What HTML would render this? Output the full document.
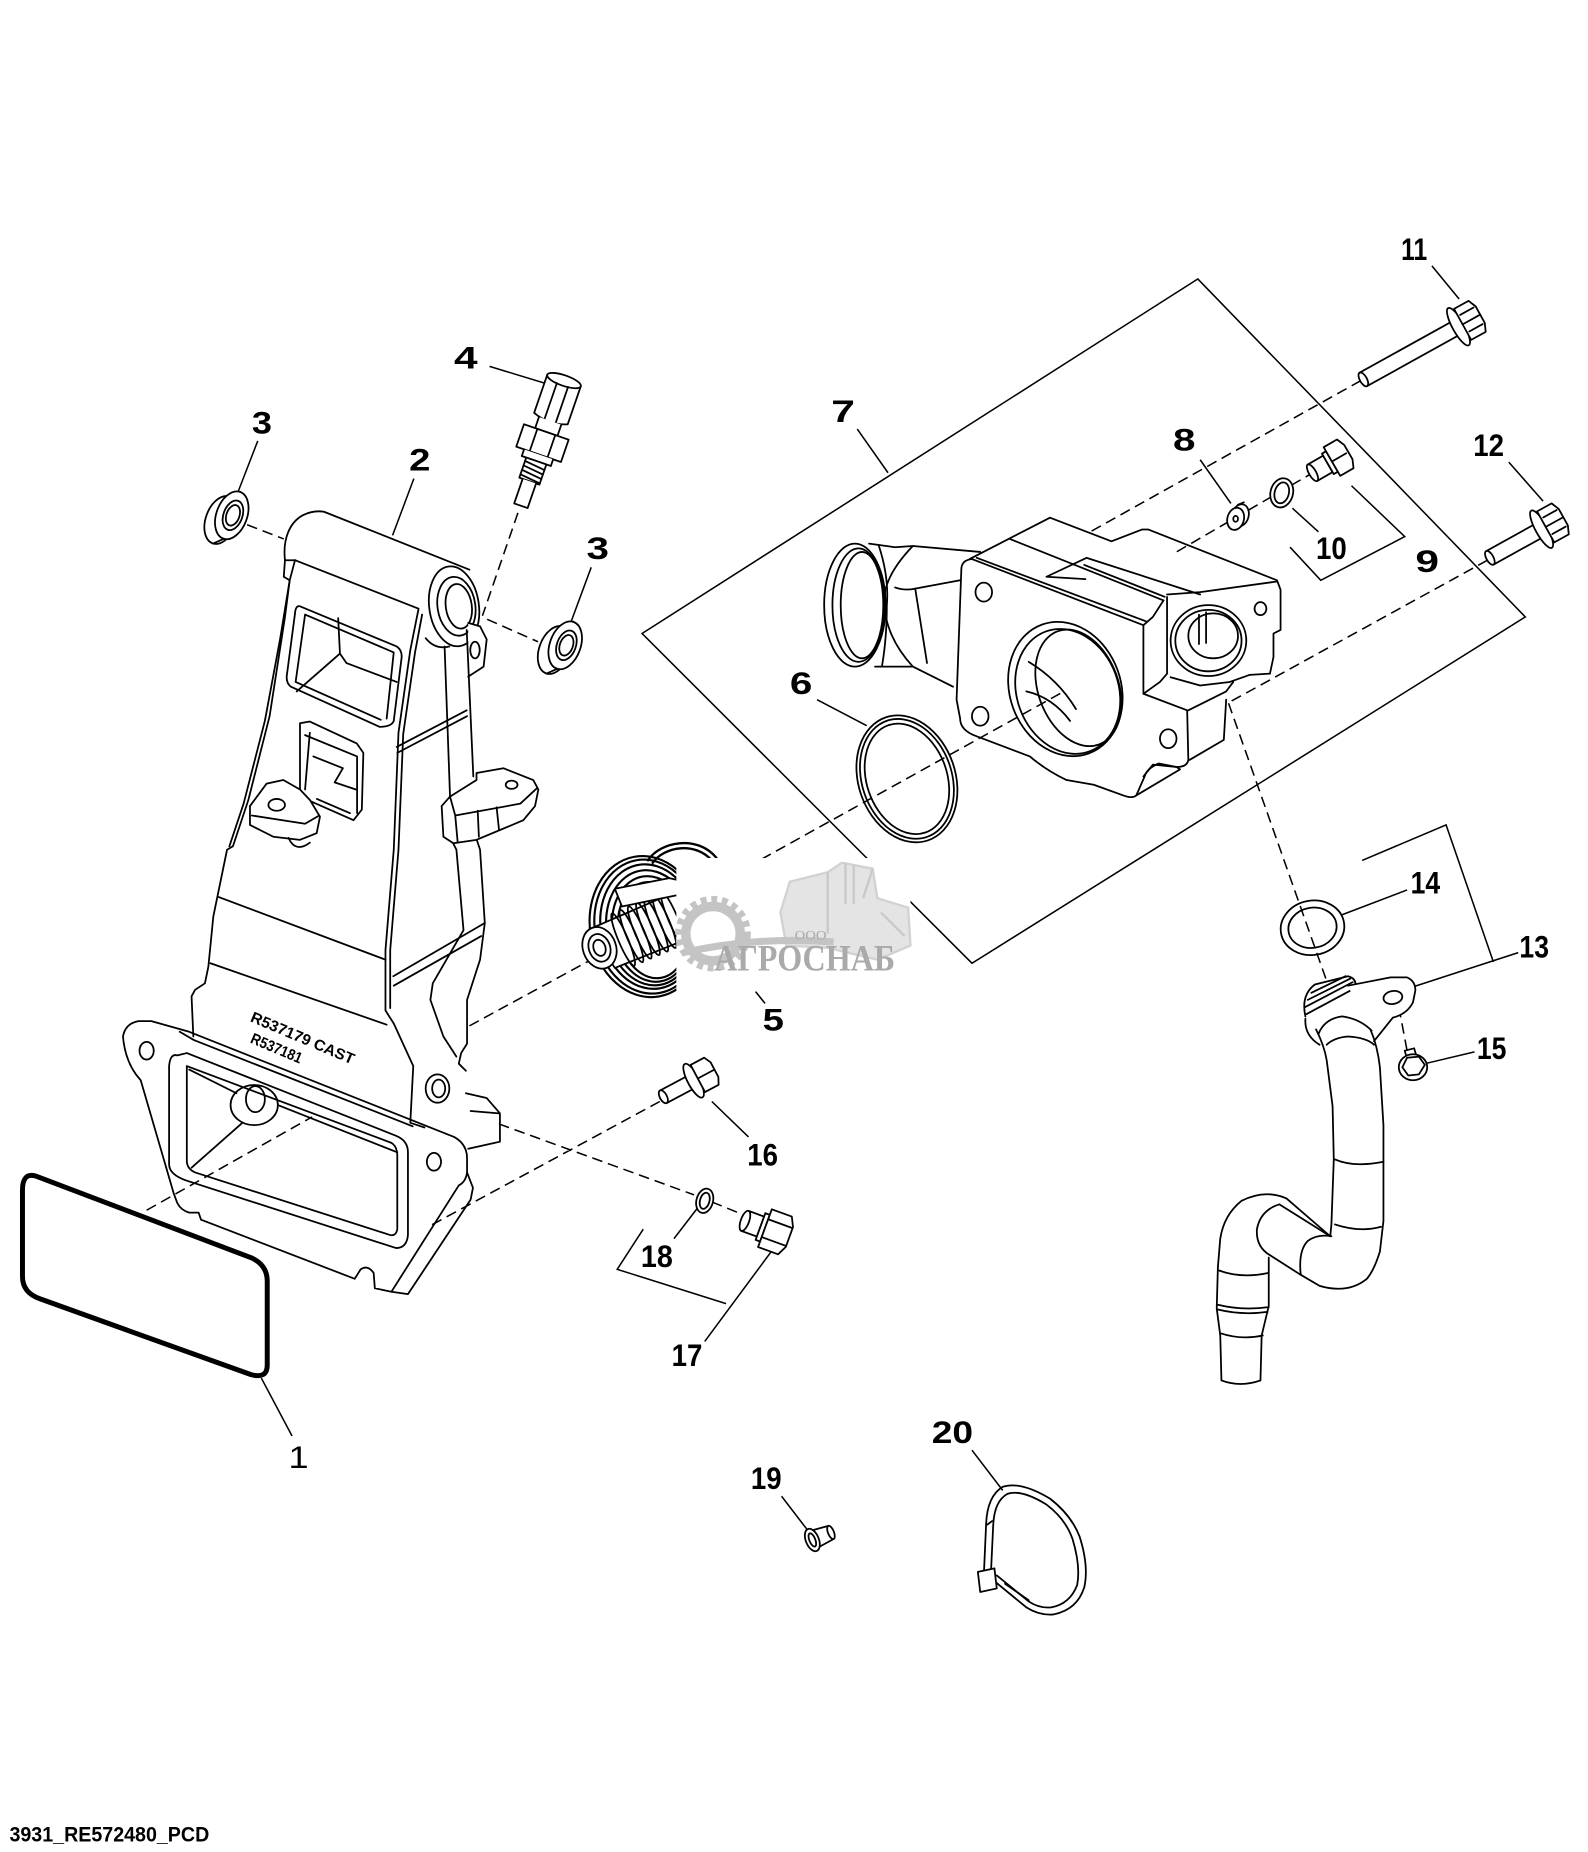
<!DOCTYPE html>
<html><head><meta charset="utf-8">
<style>
html,body{margin:0;padding:0;background:#fff;}
svg{display:block;}
text{font-family:"Liberation Sans",Arial,sans-serif;font-weight:bold;fill:#000;}
</style></head><body>
<svg width="1588" height="1852" viewBox="0 0 1343 1567" preserveAspectRatio="none" xmlns="http://www.w3.org/2000/svg">
<rect width="1343" height="1567" fill="#fff"/>

<!-- Box 7 -->
<g fill="none" stroke="#000" stroke-width="1.3">
<polygon points="1013,236 1290,522 822,815 543,536"/>
</g>

<!-- dashed axes -->
<g fill="none" stroke="#000" stroke-width="1.3" stroke-dasharray="9 5">
<path d="M1151,322 L922,450 M1112,399 L995,467 M1258,474 L1040,594 M1039,595 L1122,830 M397,868 L500,812 M644,727 L898,586 M209,444 L240,456 M438,434 L408,521 M412,524 L455,543 M558,932 L364,1037 M422,951 L587,1011 M602,1017 L634,1030 M124,1024 L264,945 M1183,852 L1190,889"/>
</g>

<!-- leaders -->
<g fill="none" stroke="#000" stroke-width="1.3">
<path d="M414,310 L460,324 M218,373 L201,417 M350,405 L332,453 M500,480 L483,526 M639,839 L647,849 M725,363 L751,400 M1015,389 L1041,426 M1115,450 L1093,430 M1143,411 L1188,454 L1117,491 L1091,463 M1211,225 L1234,253 M1276,391 L1305,424 M691,592 L733,614 M1190,753 L1135,774 M1152,728 L1223,698 L1263,814 M1284,806 L1195,835 M1247,890 L1205,900 M633,962 L602,932 M570,1048 L590,1022 M544,1040 L522,1074 L614,1103 M596,1135 L653,1058 M247,1215 L221,1166 M661,1266 L684,1296 M822,1227 L848,1261"/>
</g>

<g fill="none" stroke="#000" stroke-width="1.5" stroke-linejoin="round" stroke-linecap="round">

<!-- Part 2 housing -->
<path d="M241,474 C239,456 245,442 256,436 C262,433 268,432 274,433 L397,482"/>
<path d="M241,474 L240,488 L245,491 M241,474 L250,474"/>
<path d="M249.5,474 L245,491 L241,522 L228,606 L210,677 L197,716 L192,719 L180.4,775.5 L176.2,818 L173.3,832 L165,837.5 L162,843 L163.5,877"/>
<path d="M245,491 L237,540 L224,610 L206,680 L194,716"/>
<path d="M249.5,474 L354,515 L347,550 L337,620 L333,719 L326,804 L326,855 L333,866 L349.5,902 L347,950 L359,954"/>
<path d="M357,520 L351,552 L341,621 L337,719 L330,804 L330,853"/>
<ellipse cx="384" cy="513" rx="21" ry="34" transform="rotate(-8 384 513)" fill="#fff"/>
<ellipse cx="386" cy="513" rx="16" ry="25" transform="rotate(-8 386 513)"/>
<ellipse cx="388" cy="513" rx="11" ry="19" transform="rotate(-8 388 513)"/>
<path d="M360,540 Q368,550 380,547"/>
<path d="M396,527 L406,530 L411.6,541 L409,564 L396,572.5" fill="#fff"/>
<ellipse cx="401.7" cy="550" rx="4" ry="7"/>
<path d="M376,547 L380.6,674 M394.7,533 L400.3,657"/>
<path d="M335.5,632 L394.7,601 M336,637 L395,606"/>
<path d="M383,713 L386,719 L392,787 L366,832 L364,846 L375,877 L386,894"/>
<path d="M403,710 L406,719 L410,781 L406,812 L395,846 L395,883 L390,891 L388,900 L394,906"/>
<path d="M332.6,826 L410,781 M333,834 L407,792"/>
<path d="M403,654 L425.7,650 L451,660 L455.3,668 L452.5,682 L442.6,694 L403,710.6 L383.4,713.5 L375,708 L373.5,682 L380.6,674 L403,660 Z" fill="#fff"/>
<path d="M380.6,674 L385,690 L440,680 L454,667 M385,690 L387,712 M404,686 L405,708 M420,683 L422,702"/>
<ellipse cx="432.7" cy="664" rx="5" ry="3.5"/>
<path d="M253.7,513 L335.5,547 Q340,550 339.7,556 L333,610 Q331,615 321,615 L246,581 Q242,578 242.5,572 L249.5,519 Q250,512 253.7,513 Z"/>
<path d="M258,520 L333,552 L327,608 M258,520 L250,577 L322,609"/>
<path d="M286,523 L287.5,553 L250.9,585 M287.5,553 L293,561 L335.5,577"/>
<path d="M253.7,612 L262,610.5 L301.7,629 L307.3,637 L306,685 L299,694 L253.7,674 Z"/>
<path d="M258,622 L302,640 L302,688 M262,620 L258,668 M265,640 L290,650 L283,662 L301,668 M268,676 L296,688"/>
<path d="M211.4,682 L225.5,663 L239.6,660 L253.7,668 L262.2,677 L270.6,691 L267.8,705 L253.7,710.6 L231.2,708 L211.4,698 Z" fill="#fff"/>
<ellipse cx="234" cy="681" rx="7" ry="5"/>
<path d="M213,690 L258,697 L270,690 M244,709 Q250,722 262,713"/>
<path d="M185,759 L326,812 M178,815 L327,867"/>
<ellipse cx="370" cy="921" rx="10" ry="12"/>
<ellipse cx="371" cy="921" rx="5.5" ry="7.5"/>
<!-- flange -->
<path d="M104,877 Q106,866 117,864 L128,864 L160,873 L384,962 Q395,968 395,980 L395,992 Q394,1000 388,1003 L331,1093 L317,1090 L316,1077 Q311,1070 305,1074 L300,1082 L170,1032 L168,1026 L160,1026 Q153,1024 150,1018 L147,1010 L119,914 Q106,900 104,877 Z"/>
<path d="M152,873 L164,880 L349,953"/>
<path d="M395,992 L400,1005 L398,1015 L345,1095 L331,1093"/>
<path d="M394,925 L411.5,929 L422.8,942 L422.8,966 L396,972 M398,940 L422,942"/>
<ellipse cx="124" cy="889" rx="6" ry="7.5"/>
<ellipse cx="367" cy="983" rx="6" ry="7.5"/>
<path d="M150,893 L158,891 L335,961 Q345,965 345,975 L345,1045 Q344,1056 335,1056 L158,999 Q143,994 143,985 L143,902 Q144,891 150,893 Z"/>
<path d="M158,902 L331,967 Q336,970 336,978 L336,1040 Q335,1046 330,1045 L165,992 Q158,989 158,982 Z"/>
<ellipse cx="215" cy="935" rx="20" ry="17"/>
<ellipse cx="216" cy="930" rx="8" ry="11"/>
<path d="M162,988 L205,950 M160,905 L200,925 M235,935 L336,975"/>

<!-- Part 1 gasket -->
<path d="M30,995 L212,1064 Q226,1070 226,1084 L226,1155 Q226,1167 212,1163 L34,1099 Q19,1094 19,1080 L19,1007 Q19,992 30,995 Z" stroke-width="4.2"/>

<!-- Part 3 bushings -->
<ellipse cx="187" cy="440" rx="13" ry="21" transform="rotate(20 187 440)"/>
<path d="M194,420 L203,416 M180,460 L189,456"/>
<ellipse cx="196" cy="436" rx="13" ry="21" transform="rotate(20 196 436)" fill="#fff"/>
<ellipse cx="197" cy="436" rx="8" ry="13" transform="rotate(20 197 436)"/>
<ellipse cx="197" cy="436" rx="5.5" ry="9" transform="rotate(20 197 436)"/>
<ellipse cx="469" cy="550" rx="13" ry="21" transform="rotate(20 469 550)"/>
<path d="M476,530 L485,526 M462,570 L471,566"/>
<ellipse cx="478" cy="546" rx="13" ry="21" transform="rotate(20 478 546)" fill="#fff"/>
<ellipse cx="479" cy="546" rx="8" ry="13" transform="rotate(20 479 546)"/>
<ellipse cx="479" cy="546" rx="5.5" ry="9" transform="rotate(20 479 546)"/>

<!-- Part 4 sensor -->
<g transform="translate(477,322) rotate(19)" fill="#fff">
<path d="M-15,0 L-15,34 Q0,40 15,34 L15,0 Z"/>
<ellipse cx="0" cy="0" rx="15" ry="4.5"/>
<path d="M-5,4 L-5,36 M5,4 L5,36" fill="none"/>
<path d="M-10,36 L-10,46 L10,46 L10,36"/>
<path d="M-20,46 L20,46 L20,66 L-20,66 Z"/>
<path d="M-8,46 L-8,66 M8,46 L8,66" fill="none"/>
<path d="M-13,66 L-13,72 L13,72 L13,66"/>
<path d="M-9,72 L-9,90 L9,90 L9,72 Z"/>
<path d="M-9,75 L9,77 M-9,79 L9,81 M-9,83 L9,85 M-9,87 L9,89" fill="none"/>
<path d="M-6,90 L-6,112 L6,112 L6,90"/>
</g>

<!-- Part 7 thermostat housing -->
<ellipse cx="723" cy="512" rx="26" ry="52"/>
<ellipse cx="726" cy="512" rx="22" ry="48"/>
<ellipse cx="729" cy="512" rx="18" ry="45"/>
<path d="M743,461 Q752,488 750,512 Q750,540 746,563"/>
<path d="M735,460 L757,463 L772,462 L829,467 M740,564 L772,564 L806,581"/>
<path d="M772,462 Q745,490 748,513 Q750,540 772,564"/>
<path d="M774,498 L812,491 M774,498 L784,561 M757,497 Q765,500 774,498"/>
<path d="M813,482 Q813,474 822,473 L967,529 L967,587 L1004,601 L1005,643 Q1004,649 995,649 L980,646 Q970,650 968,657 L961,673 Q958,676 950,673 L925,664 L902,660 Q885,652 871,640 L826,623 Q812,618 812,608 L809,592 Z"/>
<path d="M820,473 L888,438 L940,458 L966,448 L971,448 L1080,491 L1083,499 L1083,533 L1077,536 L1077,556 L1074,570"/>
<path d="M826,472 L970,526 M854,456 L984,508"/>
<path d="M885,488 L919,472 L1015,503 M885,488 L918,490 M917,478 L985,505"/>
<path d="M984,508 L975,522 L967,529 M987,505 L987,570 L981,577 L967,587"/>
<path d="M987,503 L1015,501 L1080,492 M1074,570 L1057,571 L1040,577 L1015,580 L990,573"/>
<path d="M1005,601 L1037,585 L1043,577 M1037,592 L1035,626 L1006,643"/>
<path d="M967,657 L975,647 L995,649 L998,651 L961,673"/>
<ellipse cx="832" cy="501" rx="7" ry="8"/>
<ellipse cx="829" cy="606" rx="7" ry="8"/>
<ellipse cx="988" cy="625" rx="7" ry="8"/>
<ellipse cx="1066" cy="515" rx="5" ry="5.5"/>
<ellipse cx="901" cy="583" rx="47" ry="58" transform="rotate(-20 901 583)"/>
<ellipse cx="903" cy="585" rx="43" ry="54" transform="rotate(-20 903 585)"/>
<ellipse cx="912" cy="582" rx="34" ry="51" transform="rotate(-20 912 582)"/>
<path d="M870,560 Q895,575 910,600 M868,585 Q890,590 905,610"/>
<ellipse cx="1022" cy="542" rx="32" ry="30"/>
<ellipse cx="1022" cy="542" rx="28" ry="26"/>
<ellipse cx="1026" cy="538" rx="21" ry="19"/>
<path d="M1014,520 L1014,545 M1020,518 L1020,544"/>

<!-- Part 6 ring -->
<ellipse cx="767" cy="659" rx="41" ry="55" transform="rotate(-19 767 659)"/>
<ellipse cx="767" cy="659" rx="38" ry="52" transform="rotate(-19 767 659)"/>
<ellipse cx="767" cy="659" rx="34" ry="48" transform="rotate(-19 767 659)"/>

<!-- Parts 8,9,10 -->
<ellipse cx="1049" cy="436" rx="7" ry="9.5" transform="rotate(15 1049 436)"/>
<path d="M1047,427 L1052,425 M1043,448 L1048,446"/>
<ellipse cx="1045" cy="439" rx="7" ry="9.5" transform="rotate(15 1045 439)" fill="#fff"/>
<ellipse cx="1045" cy="439" rx="2" ry="2.5"/>
<ellipse cx="1084" cy="417" rx="9.5" ry="12.5" transform="rotate(15 1084 417)" fill="#fff"/>
<ellipse cx="1084" cy="417" rx="6" ry="9" transform="rotate(15 1084 417)"/>
<g transform="translate(1110,400) rotate(-30)" fill="#fff">
<path d="M0,-8 L15,-8 L15,8 L0,8 Z"/>
<ellipse cx="0" cy="0" rx="3" ry="8"/>
<path d="M15,-10 L19,-10 L19,10 L15,10 Z"/>
<path d="M19,-14 L32,-14 L35,-7 L35,7 L32,14 L19,14 Z"/>
<path d="M19,0 L33,0" fill="none"/>
</g>

<!-- Bolts 11, 12 -->
<g transform="translate(1153,321) rotate(-29)" fill="#fff">
<path d="M0,-6.5 L92,-6.5 L92,6.5 L0,6.5 Z"/>
<ellipse cx="0" cy="0" rx="3" ry="6.5"/>
<ellipse cx="92" cy="0" rx="5" ry="18"/>
<path d="M96,-15 L110,-15 L113,-8 L113,8 L110,15 L96,15 Z"/>
<path d="M96,0 L112,0 M98,-8 L111,-8 M98,8 L111,8" fill="none"/>
</g>
<g transform="translate(1260,472) rotate(-29)" fill="#fff">
<path d="M0,-6.5 L50,-6.5 L50,6.5 L0,6.5 Z"/>
<ellipse cx="0" cy="0" rx="3" ry="6.5"/>
<ellipse cx="50" cy="0" rx="5" ry="18"/>
<path d="M54,-15 L68,-15 L71,-8 L71,8 L68,15 L54,15 Z"/>
<path d="M54,0 L70,0 M56,-8 L69,-8 M56,8 L69,8" fill="none"/>
</g>

<!-- Bolt 16 -->
<g transform="translate(561,928) rotate(-28)" fill="#fff">
<path d="M0,-6 L29,-6 L29,6 L0,6 Z"/>
<ellipse cx="0" cy="0" rx="3" ry="6"/>
<ellipse cx="29" cy="0" rx="5" ry="16"/>
<path d="M33,-13 L46,-13 L49,-7 L49,7 L46,13 L33,13 Z"/>
<path d="M33,0 L48,0" fill="none"/>
</g>

<!-- Washer 18, plug 17 -->
<ellipse cx="596" cy="1016" rx="7" ry="10.5" transform="rotate(15 596 1016)" fill="#fff"/>
<ellipse cx="596" cy="1016" rx="4" ry="7" transform="rotate(15 596 1016)"/>
<g transform="translate(630,1033) rotate(20)" fill="#fff">
<path d="M0,-9 L14,-9 L14,9 L0,9 Z"/>
<ellipse cx="0" cy="0" rx="3.5" ry="9"/>
<path d="M14,-12 L18,-12 L18,12 L14,12 Z"/>
<path d="M18,-17 L36,-17 L40,-9 L40,9 L36,17 L18,17 Z"/>
<path d="M18,-8 L39,-8 M18,8 L39,8" fill="none"/>
</g>

<!-- Part 19 -->
<g transform="translate(687,1303) rotate(-22)" fill="#fff">
<path d="M0,-8 L17,-6 L17,6 L0,8 Z"/>
<ellipse cx="17" cy="0" rx="2.5" ry="6"/>
<ellipse cx="0" cy="0" rx="5.5" ry="10"/>
<ellipse cx="0" cy="0" rx="2.5" ry="6"/>
</g>

<!-- Part 20 clamp -->
<path d="M832,1334 L834,1289 Q835,1266 848,1258 Q863,1253 888,1268 Q906,1282 913,1300 Q921,1325 917,1343 Q911,1362 891,1366 Q879,1367 868,1360 L840,1337"/>
<path d="M838,1332 L840,1290 Q841,1270 852,1264 Q864,1260 885,1273 Q901,1285 907,1302 Q914,1325 911,1341 Q905,1357 889,1360 Q879,1361 870,1355 L843,1333"/>
<path d="M835,1290 L839,1287 M850,1340 L870,1354"/>
<path d="M827,1330 L841,1327 L843,1344 L829,1347 Z" fill="#fff"/>

<!-- Part 13 hose -->
<path d="M1104,860 Q1100,842 1112,833 L1140,826 Q1148,828 1146,836"/>
<path d="M1105,858 L1146,836 M1104,852 L1144,831 M1106,846 L1142,828 M1109,840 L1138,826 M1104,862 Q1103,876 1116,884"/>
<path d="M1140,834 L1176,827 L1190,827 Q1197,830 1197,838 L1195,848 Q1190,858 1178,861 L1162,881" fill="#fff"/>
<ellipse cx="1178" cy="844" rx="8" ry="5.5" transform="rotate(-10 1178 844)"/>
<path d="M1113,871 Q1120,885 1122,897 L1127,936 L1128,981 L1126,1036 L1125,1046"/>
<path d="M1159,871 Q1165,885 1167,903 L1170,952 L1170,1033 L1167,1059 Q1162,1075 1156,1082 Q1140,1095 1116,1088 L1099,1078 L1074,1062"/>
<path d="M1115,875 Q1120,862 1135,860 Q1150,862 1160,872 M1122,884 Q1128,878 1140,877 Q1156,878 1162,884"/>
<path d="M1129,981 Q1145,988 1170,983 M1129,1036 Q1150,1043 1168,1038"/>
<path d="M1125,1046 L1088,1014 Q1070,1006 1050,1016 Q1035,1028 1032,1048 L1030,1072"/>
<path d="M1074,1062 Q1062,1055 1063,1040 Q1066,1024 1082,1019 L1125,1046"/>
<path d="M1100,1078 Q1098,1058 1106,1050 Q1114,1044 1126,1046"/>
<path d="M1030,1072 L1029,1107 L1032,1130 L1033,1168 M1073,1064 L1073,1105 L1067,1130 L1066,1168 M1033,1168 Q1049,1174 1066,1168"/>
<path d="M1031,1075 Q1050,1082 1073,1077 M1030,1104 Q1050,1109 1073,1106 M1030,1108 Q1050,1113 1072,1110 M1032,1128 Q1050,1134 1068,1130"/>

<!-- Ring 14, bolt 15 -->
<ellipse cx="1110" cy="785" rx="27" ry="23" transform="rotate(-10 1110 785)"/>
<ellipse cx="1110" cy="785" rx="20.5" ry="17" transform="rotate(-10 1110 785)"/>
<path d="M1188,889 L1196,887 L1198,894 L1190,896 Z"/>
<ellipse cx="1195" cy="903" rx="12" ry="11" fill="#fff"/>
<polygon points="1205,901 1200,909 1191,910 1186,903 1190,895 1200,894" fill="#fff"/>

<!-- Part 5 thermostat -->
<g stroke-width="1.8">
<ellipse cx="547" cy="784" rx="48" ry="60" transform="rotate(-10 547 784)"/>
<ellipse cx="548" cy="784" rx="45" ry="57" transform="rotate(-10 548 784)"/>
<ellipse cx="549" cy="784" rx="41" ry="53" transform="rotate(-10 549 784)"/>
<ellipse cx="550" cy="785" rx="37" ry="49" transform="rotate(-10 550 785)"/>
<ellipse cx="551" cy="786" rx="33" ry="45" transform="rotate(-10 551 786)"/>
<ellipse cx="552" cy="787" rx="29" ry="41" transform="rotate(-10 552 787)"/>
</g>
<path d="M548,728 C558,712 590,706 606,726 M552,730 C562,716 588,712 602,728" stroke-width="2"/>
<path d="M499,786 L575,753 L575,797 L520,819 Z" fill="#fff"/>
<g>
<ellipse cx="527" cy="795" rx="4" ry="24" transform="rotate(-23 527 795)"/>
<ellipse cx="534" cy="792" rx="4" ry="24" transform="rotate(-23 534 792)"/>
<ellipse cx="541" cy="789" rx="4" ry="24" transform="rotate(-23 541 789)"/>
<ellipse cx="548" cy="786" rx="4" ry="24" transform="rotate(-23 548 786)"/>
<ellipse cx="555" cy="783" rx="4" ry="24" transform="rotate(-23 555 783)"/>
<ellipse cx="562" cy="780" rx="4" ry="24" transform="rotate(-23 562 780)"/>
<ellipse cx="569" cy="777" rx="4" ry="24" transform="rotate(-23 569 777)"/>
</g>
<path d="M520,752 L566,743 L575,745 L575,757 L526,767 Z" fill="#fff"/>
<ellipse cx="507" cy="802" rx="14" ry="18" transform="rotate(-20 507 802)" fill="#fff"/>
<ellipse cx="507" cy="802" rx="9" ry="12" transform="rotate(-20 507 802)"/>
<ellipse cx="507" cy="802" rx="5" ry="7" transform="rotate(-20 507 802)"/>
</g>

<!-- watermark white area -->
<rect x="572" y="726" width="198" height="112" fill="#fff"/>
<g fill="#e4e4e4" stroke="#d2d2d2" stroke-width="2">
<path d="M660,772 L668,746 L700,738 L712,730 L738,735 L742,760 L768,768 L770,800 L742,812 L700,802 L665,800 Z"/>
</g>
<g fill="none" stroke="#c9c9c9" stroke-width="2">
<path d="M700,738 L700,790 M738,735 L730,760 M715,730 L715,765 M722,732 L722,765 M745,772 L765,792"/>
</g>
<g fill="none" stroke="#c4c4c4">
<circle cx="603" cy="790" r="23" stroke-width="8"/>
<circle cx="603" cy="790" r="29" stroke-width="6" stroke-dasharray="5 4"/>
<path d="M578,806 Q640,792 705,797" stroke-width="6"/>
</g>
<text x="672" y="795" font-size="11" textLength="27" lengthAdjust="spacingAndGlyphs" style="font-family:'Liberation Serif',serif;font-weight:normal;fill:#a8a8a8">ООО</text>
<text x="604" y="821" font-size="31" textLength="153" lengthAdjust="spacingAndGlyphs" style="font-family:'Liberation Serif',serif;font-weight:bold;fill:#aaaaaa">АГРОСНАБ</text>

<!-- labels -->
<g font-size="26.5">
<text x="384" y="312" textLength="20" lengthAdjust="spacingAndGlyphs">4</text>
<text x="213" y="367" textLength="17" lengthAdjust="spacingAndGlyphs">3</text>
<text x="346" y="398" textLength="18" lengthAdjust="spacingAndGlyphs">2</text>
<text x="496" y="473" textLength="19" lengthAdjust="spacingAndGlyphs">3</text>
<text x="645" y="872" textLength="18" lengthAdjust="spacingAndGlyphs">5</text>
<text x="703" y="357" textLength="20" lengthAdjust="spacingAndGlyphs">7</text>
<text x="992" y="381" textLength="19" lengthAdjust="spacingAndGlyphs">8</text>
<text x="1185" y="220" textLength="22" lengthAdjust="spacingAndGlyphs">11</text>
<text x="1246" y="386" textLength="26" lengthAdjust="spacingAndGlyphs">12</text>
<text x="1113" y="473" textLength="26" lengthAdjust="spacingAndGlyphs">10</text>
<text x="1197" y="484" textLength="20" lengthAdjust="spacingAndGlyphs">9</text>
<text x="668" y="587" textLength="19" lengthAdjust="spacingAndGlyphs">6</text>
<text x="1193" y="756" textLength="25" lengthAdjust="spacingAndGlyphs">14</text>
<text x="1285" y="810" textLength="25" lengthAdjust="spacingAndGlyphs">13</text>
<text x="1249" y="896" textLength="25" lengthAdjust="spacingAndGlyphs">15</text>
<text x="632" y="986" textLength="26" lengthAdjust="spacingAndGlyphs">16</text>
<text x="542" y="1072" textLength="27" lengthAdjust="spacingAndGlyphs">18</text>
<text x="568" y="1156" textLength="26" lengthAdjust="spacingAndGlyphs">17</text>
<text x="244" y="1242" textLength="17" lengthAdjust="spacingAndGlyphs" style="font-weight:normal">1</text>
<text x="635" y="1260" textLength="26" lengthAdjust="spacingAndGlyphs">19</text>
<text x="788" y="1221" textLength="35" lengthAdjust="spacingAndGlyphs">20</text>
</g>
<text transform="translate(211,864) rotate(23)" font-size="13" textLength="94" lengthAdjust="spacingAndGlyphs">R537179  CAST</text>
<text transform="translate(211,882) rotate(23)" font-size="13" textLength="46" lengthAdjust="spacingAndGlyphs">R537181</text>
<text x="8" y="1558" font-size="17.7" textLength="169" lengthAdjust="spacingAndGlyphs">3931_RE572480_PCD</text>
</svg>
</body></html>
